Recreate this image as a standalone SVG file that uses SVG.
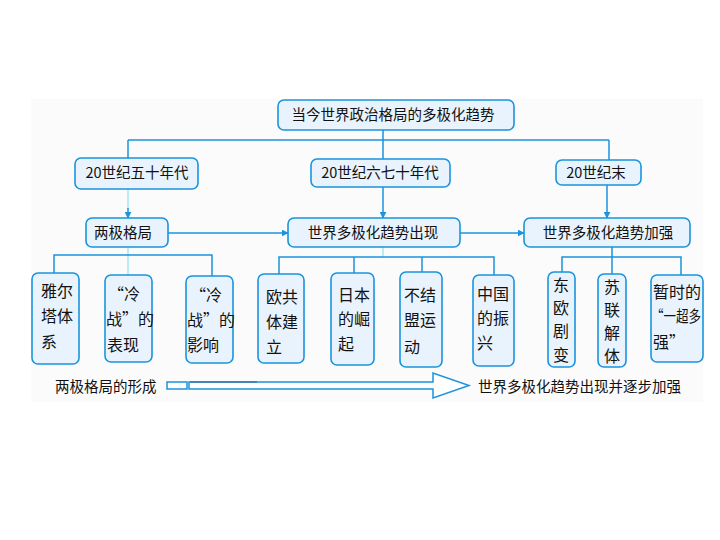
<svg xmlns="http://www.w3.org/2000/svg" width="720" height="540" viewBox="0 0 720 540">
<defs>
<style>
.box{fill:#e8f3fd;stroke:#1a94dc;stroke-width:1.6}
.t{font-family:"Noto Sans CJK SC","Liberation Sans",sans-serif;font-size:14.5px;fill:#111;text-anchor:middle}
.v{font-family:"Noto Sans CJK SC","Liberation Sans",sans-serif;font-size:16px;fill:#111}
.vc{font-family:"Noto Sans CJK SC","Liberation Sans",sans-serif;font-size:16px;fill:#111;text-anchor:middle}
.b{font-family:"Noto Sans CJK SC","Liberation Sans",sans-serif;font-size:14.5px;fill:#111}
.ln{fill:none;stroke:#1a94dc;stroke-width:1.5}
.lc{fill:none;stroke:#a6e6f2;stroke-width:1.5}
</style>
<marker id="ah" viewBox="0 0 10 10" refX="9" refY="5" markerWidth="7" markerHeight="7" orient="auto" markerUnits="userSpaceOnUse">
<path d="M0,0 L10,5 L0,10 z" fill="#1a94dc"/>
</marker>
</defs>
<rect x="0" y="0" width="720" height="540" fill="#ffffff"/>
<rect x="31" y="99" width="672" height="303" fill="#fbfbfb"/>

<g id="connectors">
<path class="ln" d="M383,130 V140 M128,140 H609 M128,140 V158 M609,140 V160 M383,140 V159"/>
<path class="lc" d="M128,189 V210"/>
<path class="ln" d="M128,208 V218" marker-end="url(#ah)"/>
<path class="ln" d="M383,187 V218" marker-end="url(#ah)"/>
<path class="ln" d="M607,185 V218" marker-end="url(#ah)"/>
<path class="ln" d="M168,233 H288" marker-end="url(#ah)"/>
<path class="ln" d="M460,233 H524" marker-end="url(#ah)"/>
<path class="lc" d="M128,247 V275"/>
<path class="ln" d="M54,273 V255 H212 V276"/>
<path class="lc" d="M383,247 V257"/>
<path class="ln" d="M279,274 V257 H494 V275 M354,257 V273 M422,257 V272"/>
<path class="ln" d="M612,247 V274 M562,272 V257 H681 V275"/>
</g>

<g id="n-top">
<rect class="box" x="278" y="100" width="236" height="30" rx="6"/>
<text class="t" x="393" y="120">当今世界政治格局的多极化趋势</text>
</g>

<g id="n-50s">
<rect class="box" x="75" y="158" width="123" height="31" rx="6"/>
<text class="t" x="137" y="178">20世纪五十年代</text>
</g>
<g id="n-6070s">
<rect class="box" x="311" y="159" width="139" height="28" rx="6"/>
<text class="t" x="380" y="178">20世纪六七十年代</text>
</g>
<g id="n-end">
<rect class="box" x="556" y="160" width="85" height="25" rx="6"/>
<text class="t" x="596" y="178">20世纪末</text>
</g>

<g id="n-bipolar">
<rect class="box" x="86" y="218" width="82" height="29" rx="6"/>
<text class="t" x="123" y="238">两极格局</text>
</g>
<g id="n-appear">
<rect class="box" x="288" y="218" width="172" height="29" rx="6"/>
<text class="t" x="373" y="238">世界多极化趋势出现</text>
</g>
<g id="n-strong">
<rect class="box" x="524" y="218" width="166" height="29" rx="6"/>
<text class="t" x="608" y="238">世界多极化趋势加强</text>
</g>

<g id="n-yalta">
<rect class="box" x="32" y="273" width="47" height="91" rx="6"/>
<text class="v" x="41" y="297">雅尔</text>
<text class="v" x="41" y="322">塔体</text>
<text class="v" x="41" y="348">系</text>
</g>
<g id="n-cw1">
<rect class="box" x="105" y="275" width="47" height="87" rx="6"/>
<text class="v" x="108" y="300">“冷</text>
<text class="v" x="106" y="325">战”的</text>
<text class="v" x="107" y="351">表现</text>
</g>
<g id="n-cw2">
<rect class="box" x="186" y="276" width="47" height="87" rx="6"/>
<text class="v" x="190" y="301">“冷</text>
<text class="v" x="187" y="326">战”的</text>
<text class="v" x="187" y="351">影响</text>
</g>
<g id="n-eec">
<rect class="box" x="258" y="274" width="46" height="89" rx="6"/>
<text class="v" x="266" y="303">欧共</text>
<text class="v" x="266" y="328">体建</text>
<text class="v" x="266" y="353">立</text>
</g>
<g id="n-japan">
<rect class="box" x="331" y="273" width="43" height="92" rx="6"/>
<text class="v" x="338" y="301">日本</text>
<text class="v" x="338" y="325">的崛</text>
<text class="v" x="338" y="350">起</text>
</g>
<g id="n-nam">
<rect class="box" x="400" y="272" width="42" height="95" rx="6"/>
<text class="v" x="404" y="301">不结</text>
<text class="v" x="404" y="326">盟运</text>
<text class="v" x="404" y="353">动</text>
</g>
<g id="n-china">
<rect class="box" x="473" y="275" width="41" height="91" rx="6"/>
<text class="v" x="477" y="300">中国</text>
<text class="v" x="477" y="324">的振</text>
<text class="v" x="477" y="349">兴</text>
</g>
<g id="n-ee">
<rect class="box" x="548" y="272" width="27" height="95" rx="6"/>
<text class="vc" x="561" y="291">东</text>
<text class="vc" x="561" y="314">欧</text>
<text class="vc" x="561" y="337">剧</text>
<text class="vc" x="561" y="361">变</text>
</g>
<g id="n-ussr">
<rect class="box" x="598" y="274" width="28" height="93" rx="6"/>
<text class="vc" x="612" y="293">苏</text>
<text class="vc" x="612" y="316">联</text>
<text class="vc" x="612" y="339">解</text>
<text class="vc" x="612" y="362">体</text>
</g>
<g id="n-super">
<rect class="box" x="651" y="275" width="52" height="87" rx="6"/>
<text class="v" x="653" y="298">暂时的</text>
<text class="v" x="651" y="322" textLength="50" lengthAdjust="spacingAndGlyphs">“一超多</text>
<text class="v" x="653" y="348">强”</text>
</g>

<g id="timeline">
<text class="b" x="55" y="392">两极格局的形成</text>
<rect x="167" y="382" width="20" height="7" fill="#ffffff" stroke="#1a94dc" stroke-width="1.5"/>
<polygon points="189,382 433,382 433,373 469,385.5 433,398 433,389 189,389" fill="#ffffff" stroke="#1a94dc" stroke-width="1.5"/>
<line x1="190" y1="382" x2="257" y2="382" stroke="#3d78a8" stroke-width="1.5"/>
<text class="b" x="478" y="392">世界多极化趋势出现并逐步加强</text>
</g>
</svg>
